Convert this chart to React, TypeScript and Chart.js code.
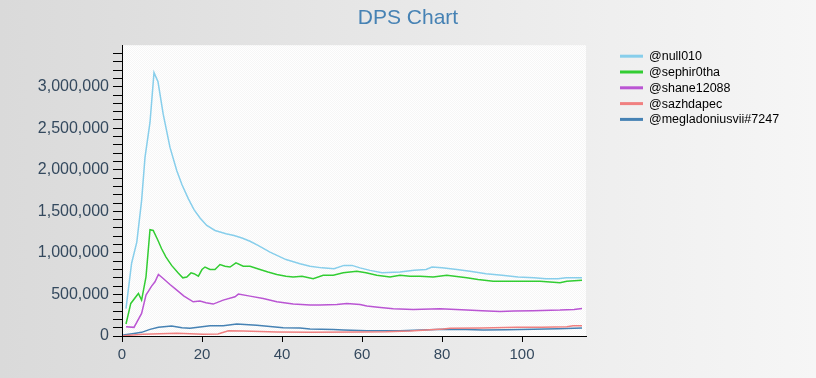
import { useEffect, useRef } from "react";
import { Chart, registerables } from "chart.js";

Chart.register(...registerables);

const FONT = '"Liberation Sans", Arial, sans-serif';
const TITLE = "DPS Chart";

// Values are in thousands of DPS
const UNIT = 1000;

const SERIES_NAMES = ["@null010", "@sephir0tha", "@shane12088", "@sazhdapec", "@megladoniusvii#7247"];
const SERIES_COLORS = ["#87CEEB", "#32CD32", "#BA55D3", "#F08080", "#4682B4"];

const NULL010_X = [1, 2.4, 3.7, 4.9, 5.75, 7, 8, 9, 10.3, 12, 13.7, 15, 16.6, 18, 19.5, 21.2, 23.25, 26, 28, 30, 32, 34, 37, 41, 44.5, 47, 50, 53, 55.5, 57.5, 59.5, 62, 65, 69.5, 73, 76, 77.5, 80, 83.7, 87, 91, 95, 99, 103, 106, 109, 111, 113, 115];
const NULL010_Y = [330, 876, 1130, 1630, 2150, 2570, 3170, 3060, 2670, 2270, 1990, 1820, 1650, 1520, 1420, 1330, 1270, 1230, 1210, 1180, 1140, 1090, 1010, 920, 870, 840, 820, 810, 850, 850, 820, 790, 760, 770, 790, 800, 830, 820, 800, 780, 750, 730, 710, 700, 690, 690, 700, 700, 700];

const SEPHIR_X = [1, 2.2, 4.1, 4.9, 6, 7, 7.8, 9, 9.9, 11, 12.4, 14, 15.2, 16.2, 17.25, 18, 19.1, 20, 20.75, 22, 23.25, 24.5, 25.75, 27, 28.5, 30.3, 32, 34.5, 36.5, 38.7, 41, 42.8, 45, 47.8, 50.3, 52.8, 55.3, 58.7, 61, 63.7, 67, 69.5, 72, 74.5, 77.8, 81.2, 86.2, 89, 92.8, 98.7, 104.5, 109.5, 111.2, 115];
const SEPHIR_Y = [144, 392, 512, 432, 712, 1280, 1270, 1150, 1050, 950, 850, 760, 700, 710, 760, 750, 720, 800, 830, 800, 800, 860, 840, 830, 880, 840, 840, 800, 770, 740, 720, 710, 720, 690, 730, 730, 760, 780, 760, 730, 710, 730, 720, 720, 710, 730, 700, 680, 660, 660, 660, 640, 660, 670];

const SHANE_X = [1, 3, 4.9, 6, 7.4, 8.25, 9.1, 10.3, 12, 13.7, 15.5, 17.8, 19.5, 21, 22.8, 25.3, 28.25, 29.1, 32, 35.3, 38.7, 42.8, 47, 49.5, 53.7, 56.2, 59.5, 61.2, 64, 67.8, 72.8, 79.5, 86.2, 90, 94.5, 98, 102.8, 109.5, 113, 115];
const SHANE_Y = [112, 104, 272, 492, 600, 652, 740, 692, 620, 552, 480, 412, 420, 400, 384, 432, 472, 504, 480, 452, 412, 384, 372, 372, 380, 392, 380, 360, 345, 328, 320, 328, 312, 305, 296, 300, 304, 312, 320, 332];

const SAZH_X = [0.3, 5.3, 13.7, 20.3, 24, 26.6, 30.3, 38.7, 47, 59.5, 66, 72, 80.3, 82, 90, 98.7, 105, 111.2, 112.8, 115];
const SAZH_Y = [4, 20, 32, 20, 24, 64, 60, 48, 44, 48, 50, 60, 84, 92, 96, 104, 106, 112, 124, 124];

const MEGLA_X = [0.3, 3, 4.9, 7, 9.1, 12.4, 15, 17, 19, 22, 25.3, 28.7, 33.7, 37, 40.3, 44.5, 47, 52.8, 55.3, 61.2, 69.5, 75, 80.3, 86, 90.3, 96, 102.8, 109, 115];
const MEGLA_Y = [12, 30, 44, 80, 104, 120, 100, 92, 105, 124, 124, 144, 128, 115, 100, 95, 84, 78, 72, 64, 64, 72, 80, 78, 72, 76, 80, 86, 95];

const SERIES_X = [NULL010_X, SEPHIR_X, SHANE_X, SAZH_X, MEGLA_X];
const SERIES_Y = [NULL010_Y, SEPHIR_Y, SHANE_Y, SAZH_Y, MEGLA_Y];

const X_MIN = 0;
const X_MAX = 116;
const X_STEP = 20;
const Y_MIN = 0;
const Y_MAX = 3500000;
const Y_MINOR_STEP = 100000;
const Y_MAJOR_STEP = 500000;

const TICK_COLOR = "#34495e";

const backgroundPlugin = {
  id: "bgPlugin",
  beforeDraw(chart: any) {
    const { ctx, width, height, chartArea } = chart;
    ctx.save();
    const g = ctx.createLinearGradient(0, 0, width, 0);
    g.addColorStop(0, "#dadada");
    g.addColorStop(1, "#f6f6f6");
    ctx.fillStyle = g;
    ctx.fillRect(0, 0, width, height);
    const pc = document.createElement("canvas");
    pc.width = 2;
    pc.height = 2;
    const p = pc.getContext("2d")!;
    p.fillStyle = "#ffffff";
    p.fillRect(0, 0, 2, 2);
    p.fillStyle = "#f6f6f6";
    p.fillRect(0, 0, 1, 1);
    p.fillRect(1, 1, 1, 1);
    ctx.fillStyle = ctx.createPattern(pc, "repeat");
    ctx.fillRect(chartArea.left, chartArea.top, chartArea.right - chartArea.left, chartArea.bottom - chartArea.top);
    ctx.restore();
  },
};

const legendPlugin = {
  id: "sideLegend",
  afterDraw(chart: any) {
    const { ctx, chartArea } = chart;
    const x0 = chartArea.right + 34;
    ctx.save();
    ctx.font = `12.5px ${FONT}`;
    ctx.textBaseline = "middle";
    ctx.textAlign = "left";
    chart.data.datasets.forEach((ds: any, i: number) => {
      const y = chartArea.top + 11 + i * 15.8;
      ctx.strokeStyle = ds.borderColor;
      ctx.lineWidth = 3;
      ctx.beginPath();
      ctx.moveTo(x0, y);
      ctx.lineTo(x0 + 23, y);
      ctx.stroke();
      ctx.fillStyle = "#000";
      ctx.fillText(ds.label, x0 + 29, y + 0.5);
    });
    ctx.restore();
  },
};

export default function App() {
  const ref = useRef<HTMLCanvasElement>(null);

  useEffect(() => {
    const datasets = SERIES_NAMES.map((name, i) => ({
      label: name,
      data: SERIES_X[i].map((x, j) => ({ x, y: SERIES_Y[i][j] * UNIT })),
      borderColor: SERIES_COLORS[i],
      backgroundColor: SERIES_COLORS[i],
      borderWidth: 1.5,
      pointRadius: 0,
      tension: 0,
      fill: false,
    }));

    const chart = new Chart(ref.current!, {
      type: "line",
      data: { datasets },
      plugins: [backgroundPlugin, legendPlugin],
      options: {
        animation: false,
        responsive: false,
        devicePixelRatio: 1,
        layout: { padding: 0 },
        plugins: {
          legend: { display: false },
          tooltip: { enabled: false },
          title: {
            display: true,
            text: TITLE,
            color: "#4682B4",
            font: { family: FONT, size: 21, weight: "normal" },
            padding: { top: 6, bottom: 14 },
          },
        },
        scales: {
          x: {
            type: "linear",
            min: X_MIN,
            max: X_MAX,
            afterFit: (s: any) => {
              s.height = 42;
            },
            grid: {
              drawOnChartArea: false,
              drawTicks: true,
              tickLength: 6,
              color: "#000",
              tickColor: "#000",
            },
            border: { display: true, color: "#000", width: 1 },
            ticks: {
              stepSize: X_STEP,
              includeBounds: false,
              autoSkip: false,
              maxRotation: 0,
              color: TICK_COLOR,
              padding: 4,
              font: { family: FONT, size: 15 },
            },
          },
          y: {
            type: "linear",
            min: Y_MIN,
            max: Y_MAX,
            afterFit: (s: any) => {
              s.width = 122;
            },
            grid: {
              drawOnChartArea: false,
              drawTicks: true,
              tickLength: 9,
              color: "#000",
              tickColor: (c: any) => (c.tick && Math.round(c.tick.value) >= Y_MAX ? "rgba(0,0,0,0)" : "#000"),
            },
            border: { display: true, color: "#000", width: 1 },
            ticks: {
              stepSize: Y_MINOR_STEP,
              includeBounds: false,
              autoSkip: false,
              color: TICK_COLOR,
              padding: 4,
              font: { family: FONT, size: 16 },
              callback: (v: any) => {
                const n = Math.round(Number(v));
                return n % Y_MAJOR_STEP === 0 && n < Y_MAX ? n.toLocaleString("en-US") : "";
              },
            },
          },
          r: {
            type: "linear",
            axis: "y",
            position: "right",
            display: true,
            afterFit: (s: any) => {
              s.width = 230;
            },
            grid: { display: false, drawTicks: false },
            border: { display: false },
            ticks: { display: false },
          },
        },
      } as any,
    });
    return () => chart.destroy();
  }, []);

  return (
    <div style={{ position: "fixed", left: 0, top: 0, width: 816, height: 378 }}>
      <canvas ref={ref} width={816} height={378} style={{ display: "block" }} />
    </div>
  );
}
